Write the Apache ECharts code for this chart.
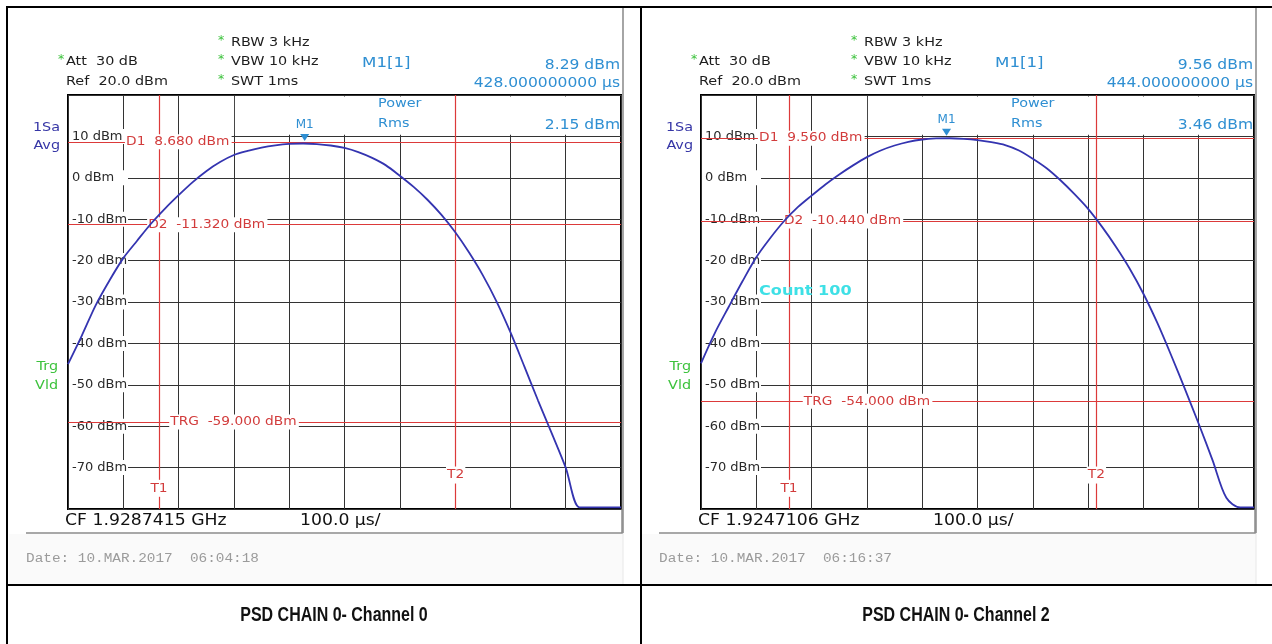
<!DOCTYPE html>
<html>
<head>
<meta charset="utf-8">
<title>PSD CHAIN 0</title>
<script src="https://cdn.jsdelivr.net/npm/echarts@6.0.0/dist/echarts.min.js"></script>
<style>
  html, body { margin: 0; padding: 0; background: #fff; }
  #chart { width: 1272px; height: 644px; }
</style>
</head>
<body>
<div id="chart"></div>
<script>
// Zero-span power traces: sweep time in µs, level in dBm
const timeCh0  = [0, 25, 50, 75, 100, 125, 150, 175, 200, 225, 250, 275, 300, 325, 350, 375, 400, 425, 450, 475, 500, 525, 550, 575, 600, 625, 650, 675, 700, 725, 750, 775, 800, 825, 850, 875, 900, 925, 950, 975, 1000];
const levelCh0 = [-45, -38.1, -30.8, -24.8, -19.4, -15.2, -11.1, -7.5, -4.2, -1.1, 1.6, 3.8, 5.5, 6.5, 7.3, 7.85, 8.2, 8.29, 8.15, 7.8, 7.2, 6.2, 4.8, 3.0, 0.5, -2.2, -5.3, -8.9, -13.1, -18.0, -23.5, -29.9, -37.3, -45.5, -53.8, -61.8, -70.0, -79.6, -79.6, -79.6, -79.6];
const timeCh2  = [0, 25, 50, 75, 100, 125, 150, 175, 200, 225, 250, 275, 300, 325, 350, 375, 400, 425, 450, 475, 500, 525, 550, 575, 600, 625, 650, 675, 700, 725, 750, 775, 800, 825, 850, 875, 900, 925, 950, 975, 1000];
const levelCh2 = [-44.8, -37.5, -31.2, -25.0, -19.2, -14.6, -10.5, -7.1, -4.3, -1.6, 0.8, 3.0, 5.0, 6.6, 7.8, 8.7, 9.25, 9.5, 9.55, 9.4, 9.1, 8.6, 7.9, 6.6, 4.6, 2.3, -0.6, -3.9, -7.5, -11.8, -16.6, -21.9, -28.0, -35.0, -42.8, -51.0, -59.4, -68.2, -77.3, -79.6, -79.6];

// Axis ranges: [min, max, step] — 100 µs/div, Ref 20 dBm at 10 dB/div
const timeRange  = [0, 1000, 100];
const levelRange = [-80, 20, 10];

// Per-panel readouts and settings
const captions     = ['PSD CHAIN 0- Channel 0', 'PSD CHAIN 0- Channel 2'];
const centerFreq   = ['1.9287415 GHz', '1.9247106 GHz'];
const dateStamps   = ['10.MAR.2017  06:04:18', '10.MAR.2017  06:16:37'];
const markerTime   = [428, 444];
const markerLevel  = [8.29, 9.56];
const rmsPower     = [2.15, 3.46];
const displayLine1 = [8.68, 9.56];
const displayLine2 = [-11.32, -10.44];
const triggerLevel = [-59, -54];
const timeLine1    = [164.6, 159.1];
const timeLine2    = [701, 715];
const avgCount     = [null, 100];
const attenuation  = '30 dB';
const rbw = '3 kHz', vbw = '10 kHz', swt = '1ms';

// ---- layout ----
const PANEL_DX = 633;
const GRID = { left: 68, top: 95, width: 553, height: 414 };
// where the line annotations sit, in data units
const labelAt = { d1: [103, 103], d2: [143, 148], trg: [183, 184], t1: -75, t2: -71.8, boxBottom: 10.4 };

const FONT = '"DejaVu Sans", Verdana, sans-serif';
const MONO = '"Liberation Mono", "DejaVu Sans Mono", monospace';
const BLUE = '#2f8fd2', RED = '#dc3a3a', RED_TXT = '#d23c3c', GREEN = '#3cc23c', TRACE = '#3434b0';

const traces = [[timeCh0, levelCh0], [timeCh2, levelCh2]];
const chart = echarts.init(document.getElementById('chart'), null, { renderer: 'canvas' });

const grid = [], xAxis = [], yAxis = [], series = [];
for (let p = 0; p < 2; p++) {
  grid.push({
    left: GRID.left + p * PANEL_DX, top: GRID.top, width: GRID.width, height: GRID.height,
    show: true, borderColor: '#000', borderWidth: 2, backgroundColor: 'transparent'
  });
  xAxis.push({
    gridIndex: p, type: 'value', min: timeRange[0], max: timeRange[1], interval: timeRange[2],
    axisLine: { show: false }, axisTick: { show: false }, axisLabel: { show: false },
    splitLine: { show: true, lineStyle: { color: '#333', width: 1 } }
  });
  // graticule
  yAxis.push({
    gridIndex: p, type: 'value', position: 'left', min: levelRange[0], max: levelRange[1], interval: levelRange[2],
    axisLine: { show: false }, axisTick: { show: false }, axisLabel: { show: false },
    splitLine: { show: true, lineStyle: { color: '#333', width: 1 } }, z: 0
  });
  // level labels drawn inside the graticule
  yAxis.push({
    gridIndex: p, type: 'value', position: 'left', min: levelRange[0], max: levelRange[1], interval: levelRange[2],
    axisLine: { show: false }, axisTick: { show: false }, splitLine: { show: false }, z: 3,
    axisLabel: {
      show: true, inside: true, margin: 1, showMinLabel: false, showMaxLabel: false,
      formatter: v => v + ' dBm', color: '#2a2a2a', fontFamily: FONT, fontSize: 13,
      backgroundColor: '#fff', padding: [1, 3, 1, 3], width: 53, align: 'left'
    }
  });

  const [t, l] = traces[p];
  series.push({
    type: 'line', name: 'Trace ' + (p + 1), xAxisIndex: p, yAxisIndex: 2 * p,
    data: t.map((x, i) => [x, l[i]]), showSymbol: false, smooth: 0.3, clip: true,
    lineStyle: { color: TRACE, width: 1.8 }, z: 40, silent: true,
    markPoint: {
      silent: true, symbol: 'path://M0,0 L10,0 L5,8 Z', symbolSize: [9, 7], symbolOffset: [0, -6],
      itemStyle: { color: BLUE },
      label: { show: true, position: 'top', distance: 3, formatter: 'M1', color: BLUE, fontFamily: FONT, fontSize: 12 },
      data: [{ coord: [markerTime[p], markerLevel[p]] }]
    }
  });
  series.push({
    type: 'line', name: 'Lines ' + (p + 1), xAxisIndex: p, yAxisIndex: 2 * p, data: [], z: 4, silent: true,
    markLine: {
      silent: true, symbol: ['none', 'none'], label: { show: false },
      lineStyle: { color: RED, width: 1.2, type: 'solid' },
      emphasis: { disabled: true },
      data: [
        { yAxis: displayLine1[p] }, { yAxis: displayLine2[p] }, { yAxis: triggerLevel[p] },
        { xAxis: timeLine1[p] }, { xAxis: timeLine2[p] }
      ]
    }
  });
}

chart.setOption({ animation: false, grid, xAxis, yAxis, series });

// ---- screen annotations ----
function text(x, y, str, o) {
  o = o || {};
  const align = o.align || 'left';
  return {
    type: 'text', x, y, z: o.z != null ? o.z : 30, scaleX: o.sx != null ? o.sx : 1.15, silent: true,
    style: {
      text: str, x: 0, y: 0, fill: o.color || '#1e1e1e',
      font: (o.weight || 'normal') + ' ' + (o.size || 12.5) + 'px ' + (o.family || FONT),
      align: align, textAlign: align, verticalAlign: 'middle', textVerticalAlign: 'middle',
      backgroundColor: o.bg, padding: o.pad
    }
  };
}
function seg(x1, y1, x2, y2, color, w, z) {
  return { type: 'line', silent: true, z: z || 50, shape: { x1, y1, x2, y2 }, style: { stroke: color, lineWidth: w } };
}

const g = [];
// table rules
g.push(seg(6, 7, 1272, 7, '#000', 2));
g.push(seg(7, 6, 7, 644, '#000', 2));
g.push(seg(641, 6, 641, 644, '#000', 2));
g.push(seg(6, 585, 1272, 585, '#000', 2));

for (let p = 0; p < 2; p++) {
  const dx = p * PANEL_DX;
  const X = v => v + dx;
  const px = (t, v) => chart.convertToPixel({ xAxisIndex: p, yAxisIndex: 2 * p }, [t, v]);

  // screen frame and footer
  g.push({ type: 'rect', silent: true, z: -1, shape: { x: X(9), y: 534, width: 614, height: 50 }, style: { fill: '#fafafa' } });
  g.push(seg(X(623), 8, X(623), 533, '#6a6a6a', 1.2, 1));
  g.push(seg(X(623), 533, X(623), 584, '#e8e8e8', 1, 1));
  g.push({ type: 'polyline', silent: true, z: 1, shape: { points: [[X(26), 533], [X(622), 533], [X(622), 509]] }, style: { stroke: '#8c8c8c', lineWidth: 1.5, fill: null } });

  // marker readout box over the upper graticule
  const a = px(300, levelRange[1]), b = px(timeRange[1], labelAt.boxBottom);
  g.push({ type: 'rect', silent: true, z: 2, shape: { x: a[0] + 1, y: a[1] + 1.5, width: b[0] - a[0] - 2.5, height: b[1] - a[1] - 1.5 }, style: { fill: '#fff' } });

  // instrument settings
  g.push(text(X(61), 60, '*', { color: GREEN, align: 'center', sx: 1 }));
  g.push(text(X(66), 62, 'Att  ' + attenuation));
  g.push(text(X(66), 82, 'Ref  ' + levelRange[1].toFixed(1) + ' dBm'));
  g.push(text(X(221), 41, '*', { color: GREEN, align: 'center', sx: 1 }));
  g.push(text(X(231), 43, 'RBW ' + rbw));
  g.push(text(X(221), 60, '*', { color: GREEN, align: 'center', sx: 1 }));
  g.push(text(X(231), 62, 'VBW ' + vbw));
  g.push(text(X(221), 80, '*', { color: GREEN, align: 'center', sx: 1 }));
  g.push(text(X(231), 82, 'SWT ' + swt));

  // marker and power readouts
  g.push(text(X(362), 63, 'M1[1]', { color: BLUE, size: 14.5 }));
  g.push(text(X(620), 65, markerLevel[p].toFixed(2) + ' dBm', { color: BLUE, size: 13.5, align: 'right' }));
  g.push(text(X(620), 83, markerTime[p].toFixed(9) + ' µs', { color: BLUE, size: 13.5, align: 'right' }));
  g.push(text(X(378), 104, 'Power', { color: BLUE, size: 12.5 }));
  g.push(text(X(378), 124, 'Rms', { color: BLUE, size: 12.5 }));
  g.push(text(X(620), 125, rmsPower[p].toFixed(2) + ' dBm', { color: BLUE, size: 13.5, align: 'right' }));

  // trace and trigger status
  g.push(text(X(60), 128, '1Sa', { color: '#3636a6', align: 'right' }));
  g.push(text(X(60), 146, 'Avg', { color: '#3636a6', align: 'right' }));
  g.push(text(X(58), 367, 'Trg', { color: GREEN, align: 'right' }));
  g.push(text(X(58), 386, 'Vld', { color: GREEN, align: 'right' }));
  if (avgCount[p]) g.push(text(X(126), 291, 'Count ' + avgCount[p], { color: '#3ee0e6', weight: 'bold', size: 14 }));

  // footer
  g.push(text(X(65), 521, 'CF ' + centerFreq[p], { color: '#111', size: 15 }));
  g.push(text(X(300), 521, (timeRange[2]).toFixed(1) + ' µs/', { color: '#111', size: 15 }));
  g.push(text(X(26), 559, 'Date: ' + dateStamps[p], { color: '#9b9b9b', size: 12.5, family: MONO }));
  g.push(text(p === 0 ? 334 : 956, 616, captions[p], { color: '#111', size: 19.5, weight: 'bold', family: '"Liberation Sans Narrow", "Liberation Sans", Arial, sans-serif', align: 'center', sx: 0.82 }));

  // line annotations
  const red = { color: RED_TXT, bg: '#fff', pad: [1, 2, 1, 1], sx: 1.1, size: 12.5 };
  let q = px(labelAt.d1[p], displayLine1[p]);
  g.push(text(q[0], q[1], 'D1  ' + displayLine1[p].toFixed(3) + ' dBm', red));
  q = px(labelAt.d2[p], displayLine2[p]);
  g.push(text(q[0], q[1], 'D2  ' + displayLine2[p].toFixed(3) + ' dBm', red));
  q = px(labelAt.trg[p], triggerLevel[p]);
  g.push(text(q[0], q[1], 'TRG  ' + triggerLevel[p].toFixed(3) + ' dBm', red));
  q = px(timeLine1[p], labelAt.t1);
  g.push(text(q[0], q[1], 'T1', Object.assign({}, red, { align: 'center', pad: [2, 1, 2, 1] })));
  q = px(timeLine2[p], labelAt.t2);
  g.push(text(q[0], q[1], 'T2', Object.assign({}, red, { align: 'center', pad: [2, 1, 2, 1] })));
}

chart.setOption({ graphic: { elements: g } });
</script>
</body>
</html>
